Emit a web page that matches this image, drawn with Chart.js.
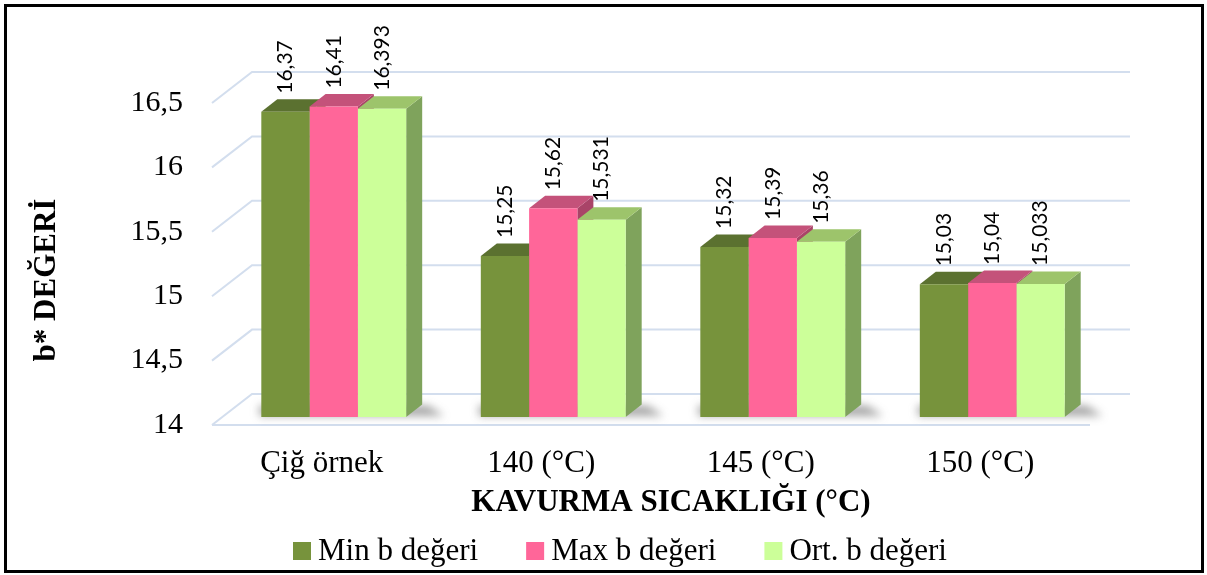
<!DOCTYPE html>
<html>
<head>
<meta charset="utf-8">
<script src="https://cdn.jsdelivr.net/npm/chart.js@4/dist/chart.umd.min.js"></script>
<style>
  html, body { margin: 0; padding: 0; background: #fff; }
  #wrap { width: 1207px; height: 575px; }
</style>
</head>
<body>
<div id="wrap"><canvas id="c" width="1207" height="575"></canvas></div>
<script>
// b* values per roasting temperature
const categories = ['Çiğ örnek', '140 (°C)', '145 (°C)', '150 (°C)'];
const minValues = [16.37, 15.25, 15.32, 15.03];
const maxValues = [16.41, 15.62, 15.39, 15.04];
const ortValues = [16.393, 15.531, 15.36, 15.033];
const seriesNames = ['Min b değeri', 'Max b değeri', 'Ort. b değeri'];
const yTickValues = [14, 14.5, 15, 15.5, 16, 16.5];
const yTickLabels = ['14', '14,5', '15', '15,5', '16', '16,5'];
const yTitle = 'b* DEĞERİ';
const xTitle = 'KAVURMA SICAKLIĞI (°C)';

const frontColors = ['#77933c', '#ff6699', '#ccff99'];
const topColors = ['#5b7130', '#c4527a', '#9dc46b'];
const sideColors = ['#62782f', '#a94468', '#7fa35c'];

// 3D projection offsets
const WALL = { dx: 40, dy: -31 };     // floor / back wall depth
const SHIFT = { dx: 12, dy: -8 };     // bar front plane behind the floor edge
const BOX = { dx: 16, dy: -12.5 };    // bar depth
const SERIF = '"Liberation Serif", "Times New Roman", serif';

const fmt = v => String(v).replace('.', ',');

function barBox(el) {
  const w = el.width;
  return {
    x0: el.x - w / 2 + SHIFT.dx,
    x1: el.x + w / 2 + SHIFT.dx,
    yt: el.y + SHIFT.dy,
    yb: el.base + SHIFT.dy,
    cx: el.x + SHIFT.dx
  };
}

function poly(ctx, pts, fill) {
  ctx.beginPath();
  ctx.moveTo(pts[0][0], pts[0][1]);
  for (let i = 1; i < pts.length; i++) ctx.lineTo(pts[i][0], pts[i][1]);
  ctx.closePath();
  ctx.fillStyle = fill;
  ctx.fill();
}

const box3d = {
  id: 'box3d',
  beforeDraw(chart) {
    const ctx = chart.ctx;
    ctx.save();
    ctx.fillStyle = '#fff';
    ctx.fillRect(0, 0, chart.width, chart.height);
    ctx.lineWidth = 3;
    ctx.strokeStyle = '#000';
    ctx.strokeRect(5.5, 5.5, 1197, 566);
    ctx.restore();
  },
  beforeDatasetsDraw(chart) {
    const ctx = chart.ctx;
    const { left, right, bottom } = chart.chartArea;
    const ys = chart.scales.y;
    ctx.save();
    // side wall + back wall grid lines
    ctx.strokeStyle = '#d3deee';
    ctx.lineWidth = 2;
    yTickValues.forEach(v => {
      const py = ys.getPixelForValue(v);
      ctx.beginPath();
      ctx.moveTo(left, py);
      ctx.lineTo(left + WALL.dx, py + WALL.dy);
      ctx.lineTo(right + WALL.dx, py + WALL.dy);
      ctx.stroke();
    });
    // floor front edge
    ctx.beginPath();
    ctx.moveTo(left, bottom);
    ctx.lineTo(right, bottom);
    ctx.stroke();

    const metas = chart.data.datasets.map((d, i) => chart.getDatasetMeta(i));
    const n = chart.data.labels.length;

    // soft floor shadows behind each group
    ctx.save();
    ctx.filter = 'blur(4px)';
    for (let j = 0; j < n; j++) {
      const a = barBox(metas[0].data[j]);
      const b = barBox(metas[metas.length - 1].data[j]);
      const yb = a.yb;
      poly(ctx, [
        [a.x0 - 2, yb + BOX.dy + 1],
        [b.x1 + BOX.dx + 6, yb + BOX.dy + 1],
        [b.x1 + BOX.dx + 22, yb - 1],
        [a.x0 - 2, yb - 1]
      ], 'rgba(60,60,60,0.45)');
    }
    ctx.restore();

    // side and top faces, left to right
    for (let j = 0; j < n; j++) {
      metas.forEach((m, i) => {
        const r = barBox(m.data[j]);
        poly(ctx, [
          [r.x1, r.yt], [r.x1 + BOX.dx, r.yt + BOX.dy],
          [r.x1 + BOX.dx, r.yb + BOX.dy], [r.x1, r.yb]
        ], sideColors[i]);
        poly(ctx, [
          [r.x0, r.yt], [r.x1, r.yt],
          [r.x1 + BOX.dx, r.yt + BOX.dy], [r.x0 + BOX.dx, r.yt + BOX.dy]
        ], topColors[i]);
      });
    }
    ctx.restore();
    // front faces drawn by Chart.js in the shifted plane
    ctx.save();
    ctx.translate(SHIFT.dx, SHIFT.dy);
  },
  afterDatasetsDraw(chart) {
    const ctx = chart.ctx;
    ctx.restore();
    // value labels
    ctx.save();
    ctx.fillStyle = '#000';
    ctx.font = '21px Lato, "Open Sans", sans-serif';
    ctx.textAlign = 'left';
    ctx.textBaseline = 'middle';
    chart.data.datasets.forEach((d, i) => {
      chart.getDatasetMeta(i).data.forEach((el, j) => {
        const r = barBox(el);
        ctx.save();
        ctx.translate(r.cx, r.yt - 18);
        ctx.rotate(-Math.PI / 2);
        ctx.fillText(fmt(d.data[j]), 0, 0);
        ctx.restore();
      });
    });
    ctx.restore();
  },
  afterDraw(chart) {
    const ctx = chart.ctx;
    const { left, right, top, bottom } = chart.chartArea;
    ctx.save();
    ctx.fillStyle = '#000';
    // axis titles
    ctx.font = 'bold 31px ' + SERIF;
    ctx.textAlign = 'center';
    ctx.textBaseline = 'alphabetic';
    ctx.fillText(xTitle, (left + right + WALL.dx) / 2, 511);
    ctx.save();
    ctx.translate(55, (top + bottom) / 2 + 16);
    ctx.rotate(-Math.PI / 2);
    ctx.fillText(yTitle, 0, 0);
    ctx.restore();
    // legend
    ctx.font = '31px ' + SERIF;
    ctx.textAlign = 'left';
    let x = 293;
    const base = 560, size = 18;
    chart.data.datasets.forEach(d => {
      ctx.fillStyle = d.backgroundColor;
      ctx.fillRect(x, base - size, size, size);
      ctx.fillStyle = '#000';
      ctx.fillText(d.label, x + size + 7, base);
      x += size + 7 + ctx.measureText(d.label).width + 48;
    });
    ctx.restore();
  }
};

const yMin = yTickValues[0];
const yMax = yTickValues[yTickValues.length - 1];

new Chart(document.getElementById('c'), {
  type: 'bar',
  data: {
    labels: categories,
    datasets: [
      { label: seriesNames[0], data: minValues, backgroundColor: frontColors[0], base: yMin },
      { label: seriesNames[1], data: maxValues, backgroundColor: frontColors[1], base: yMin },
      { label: seriesNames[2], data: ortValues, backgroundColor: frontColors[2], base: yMin }
    ]
  },
  options: {
    responsive: false,
    animation: false,
    devicePixelRatio: 1,
    layout: { padding: { top: 103, right: 117, left: 0, bottom: 0 } },
    datasets: { bar: { categoryPercentage: 0.66, barPercentage: 1, borderWidth: 0 } },
    plugins: { legend: { display: false }, tooltip: { enabled: false } },
    scales: {
      x: {
        grid: { display: false, drawTicks: false },
        border: { display: false },
        ticks: { color: '#000', font: { family: SERIF, size: 31 }, padding: 20, maxRotation: 0 },
        afterFit: s => { s.height = 150; }
      },
      y: {
        min: yMin,
        max: yMax,
        grid: { display: false, drawTicks: false },
        border: { display: false },
        ticks: {
          stepSize: 0.5,
          color: '#000',
          padding: 29,
          font: { family: SERIF, size: 30 },
          callback: v => {
            const k = yTickValues.indexOf(v);
            return k >= 0 ? yTickLabels[k] : '';
          }
        },
        afterFit: s => { s.width = 212; }
      }
    }
  },
  plugins: [box3d]
});
</script>
</body>
</html>
